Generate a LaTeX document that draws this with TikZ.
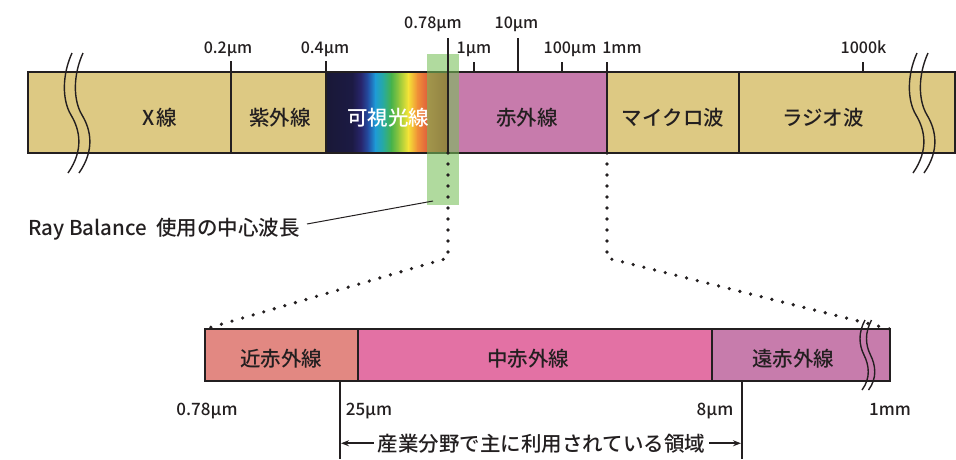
\documentclass[tikz,border=0pt]{standalone}
\usepackage{fontspec}
\setmainfont{Noto Sans CJK JP}
\IfFontExistsTF{Noto Sans CJK JP Medium}{\newfontfamily\jpf{Noto Sans CJK JP Medium}}{\newfontfamily\jpf{Noto Sans CJK JP}}
\usetikzlibrary{arrows.meta}
\begin{document}
\begin{tikzpicture}[x=1pt,y=-1pt]
\definecolor{tan}{RGB}{221,201,131}
\definecolor{irc}{RGB}{199,123,172}
\definecolor{nirc}{RGB}{226,136,130}
\definecolor{mirc}{RGB}{227,113,164}
\definecolor{firc}{RGB}{199,124,172}
\definecolor{ink}{RGB}{35,31,32}
\definecolor{hl}{RGB}{119,191,88}
\definecolor{s0}{RGB}{25,24,55}
\definecolor{s1}{RGB}{28,26,68}
\definecolor{s2}{RGB}{40,38,110}
\definecolor{s3}{RGB}{35,80,165}
\definecolor{s4}{RGB}{30,155,215}
\definecolor{s5}{RGB}{40,170,160}
\definecolor{s6}{RGB}{70,178,75}
\definecolor{s7}{RGB}{150,200,60}
\definecolor{s8}{RGB}{245,228,55}
\definecolor{s9}{RGB}{240,145,55}
\definecolor{s10}{RGB}{225,95,60}
\definecolor{s11}{RGB}{180,45,35}
\tikzset{
 seg/.style={draw=ink, line width=2pt, rectangle, inner sep=0pt, outer sep=0pt},
 jp/.style={font=\jpf\fontsize{20.5}{24}\selectfont, text=ink, inner sep=0pt, anchor=base},
 num/.style={font=\jpf\fontsize{16}{19}\selectfont, text=ink, inner sep=0pt, anchor=base},
 numb/.style={font=\jpf\fontsize{17}{20}\selectfont, text=ink, inner sep=0pt, anchor=base},
 tk/.style={draw=ink, line width=2pt},
 dots/.style={draw=ink, line width=3.6pt, line cap=round, dash pattern=on 0pt off 11pt},
 brk/.style={draw=ink, line width=1.4pt},
 lead/.style={draw=ink, line width=1pt},
 arr/.style={draw=ink, line width=1.6pt, -{Stealth[length=8pt,width=6pt]}},
}
\useasboundingbox (0,0) rectangle (956,459);

% visible spectrum
\shade[left color=s0,right color=s1] (326,72) rectangle (352.4,153);
\shade[left color=s1,right color=s2] (352,72) rectangle (361.4,153);
\shade[left color=s2,right color=s3] (361,72) rectangle (368.4,153);
\shade[left color=s3,right color=s4] (368,72) rectangle (375.4,153);
\shade[left color=s4,right color=s5] (375,72) rectangle (383.4,153);
\shade[left color=s5,right color=s6] (383,72) rectangle (391.4,153);
\shade[left color=s6,right color=s7] (391,72) rectangle (399.4,153);
\shade[left color=s7,right color=s8] (399,72) rectangle (408.4,153);
\shade[left color=s8,right color=s9] (408,72) rectangle (417.4,153);
\shade[left color=s9,right color=s10] (417,72) rectangle (427.4,153);
\shade[left color=s10,right color=s11] (427,72) rectangle (448,153);

% top bar
\node[seg, fill=tan, minimum width=203pt, minimum height=81pt] (xr) at (129.5,112.5) {};
\node[seg, fill=tan, minimum width=95pt, minimum height=81pt] (uv) at (278.5,112.5) {};
\node[seg, minimum width=122pt, minimum height=81pt] (vis) at (387,112.5) {};
\node[seg, fill=irc, minimum width=159pt, minimum height=81pt] (irn) at (527.5,112.5) {};
\node[seg, fill=tan, minimum width=132pt, minimum height=81pt] (mw) at (673,112.5) {};
\node[seg, fill=tan, minimum width=216pt, minimum height=81pt] (rw) at (847,112.5) {};

% break marks
\foreach \d in {0,11}{
 \draw[brk, xshift=\d] (72,53) .. controls (62,75) and (62,100) .. (71,115) .. controls (80,130) and (84,150) .. (68,173);
 \draw[brk, xshift=\d] (917,53) .. controls (907,75) and (907,100) .. (916,115) .. controls (925,130) and (929,150) .. (913,173);
}

% green highlight
\node[fill=hl, fill opacity=0.58, minimum width=32pt, minimum height=151pt, inner sep=0pt, outer sep=0pt] (hlb) at (443,129.5) {};

% ticks
\draw[tk] (uv.north west) -- ++(0,-11);
\draw[tk] (vis.north west) -- ++(0,-11);
\draw[tk] (vis.south east) -- ++(0,-115);
\coordinate (k1) at (474,72);
\coordinate (k10) at (518,72);
\coordinate (k100) at (562,72);
\coordinate (k1000) at (863,72);
\draw[tk] (k1) -- ++(0,-10);
\draw[tk] (k10) -- ++(0,-34);
\draw[tk] (k100) -- ++(0,-10);
\draw[tk] (irn.north east) -- ++(0,-10);
\draw[tk] (k1000) -- ++(0,-10);

% tick labels
\node[num] (n02) at (228,53) {0.2µm};
\node[num] (n04) at (325,53) {0.4µm};
\node[num] (n078) at (433,28.5) {0.78µm};
\node[num] (n1) at (474,53) {1µm};
\node[num] (n10) at (516.5,28.5) {10µm};
\node[num] (n100) at (570,53) {100µm};
\node[num] (n1mm) at (622,53) {1mm};
\node[num] (n1000) at (863.5,53) {1000k};

% bar texts
\node[jp] (tx) at (160,125) {X\hspace{2pt}線};
\node[jp] (tuv) at (280,125) {紫外線};
\node[jp, text=white] (tvis) at (388,125) {可視光線};
\node[jp] (tir) at (527,125) {赤外線};
\node[jp] (tmw) at (673,125) {マイクロ波};
\node[jp] (trw) at (823,125) {ラジオ波};

% leader
\node[font=\jpf\fontsize{20.5}{23}\selectfont, text=ink, inner sep=0pt, anchor=base west] (rb) at (28,235) {Ray Balance\hspace{5pt} 使用の中心波長};
\coordinate (lp) at (307,224);
\coordinate (hlp) at (433,201);
\draw[lead] (lp) -- (hlp);

% bottom bar
\node[seg, fill=nirc, minimum width=153pt, minimum height=52pt] (nir) at (281.5,355) {};
\node[seg, fill=mirc, minimum width=354pt, minimum height=52pt] (mir) at (535,355) {};
\node[seg, fill=firc, minimum width=178pt, minimum height=52pt] (fir) at (801,355) {};
\foreach \d in {0,6.5}{
 \draw[brk, xshift=\d] (865,320) .. controls (858,333) and (859,345) .. (864,355) .. controls (869,365) and (871,378) .. (862,390);
}
\node[jp] (tnir) at (281,366) {近赤外線};
\node[jp] (tmir) at (528,366) {中赤外線};
\node[jp] (tfir) at (793,366) {遠赤外線};

% dotted zoom lines
\coordinate (c1) at (448,258);
\coordinate (c2) at (607,258);
\draw[dots] (vis.south east) -- (c1) -- (nir.north west);
\draw[dots] (irn.south east) -- (c2) -- (fir.north east);

% bottom labels
\node[numb] (b1) at (207,415) {0.78µm};
\node[numb] (b2) at (369,415) {25µm};
\node[numb] (b3) at (715,415) {8µm};
\node[numb] (b4) at (890,415) {1mm};

% range lines and arrows
\coordinate (l1a) at (340,381);
\coordinate (l1b) at (340,459);
\coordinate (l2a) at (742,381);
\coordinate (l2b) at (742,459);
\draw[tk] (l1a) -- (l1b);
\draw[tk] (l2a) -- (l2b);
\node[jp] (use) at (541.5,451) {産業分野で主に利用されている領域};
\draw[arr] ([xshift=-4pt]use.west) -- ([xshift=1pt]use.west -| l1a);
\draw[arr] ([xshift=4pt]use.east) -- ([xshift=-1pt]use.east -| l2a);
\end{tikzpicture}
\end{document}
